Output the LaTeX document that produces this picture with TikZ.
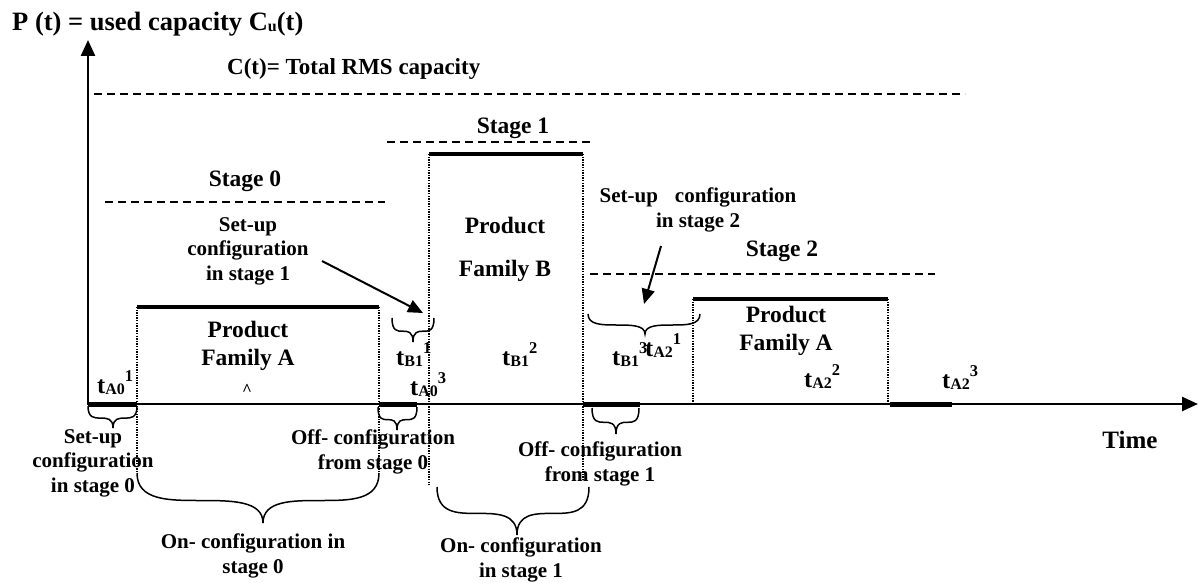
\documentclass[tikz,border=0pt]{standalone}
\usepackage{fontspec}
\setmainfont{Liberation Serif}
\usetikzlibrary{arrows.meta}

% font size helper (size in pt, leading in pt)
\newcommand\fsz[2]{\bfseries\fontsize{#1}{#2}\selectfont}
% time label t with subscript index and superscript phase
\newcommand\tlab[2]{t\raisebox{-1pt}{\fontsize{16}{16}\selectfont #1}\raisebox{12pt}{\fontsize{16.5}{16.5}\selectfont #2}}
% curly brace: left x, tip x, right x, top y, tip y
\newcommand\cbrace[5]{%
  \pgfmathsetmacro\bh{#4+0.55*(#5-#4)}%
  \pgfmathsetmacro\bl{#2-#1}%
  \pgfmathsetmacro\br{#3-#2}%
  \draw[bracepen] (#1,#4) .. controls (#1,\bh) and ({#1+0.25*\bl},\bh) .. ({#1+0.5*\bl},\bh)
    .. controls ({#1+0.75*\bl},\bh) and (#2,\bh) .. (#2,#5)
    .. controls (#2,\bh) and ({#2+0.25*\br},\bh) .. ({#2+0.5*\br},\bh)
    .. controls ({#2+0.75*\br},\bh) and (#3,\bh) .. (#3,#4);
}

\tikzset{
  axis/.style={line width=2.5pt, -{Triangle[length=16pt,width=14pt]}},
  level/.style={line width=1.5pt, dash pattern=on 8pt off 5pt},
  plateau/.style={line width=4pt},
  edge/.style={line width=1.3pt, dash pattern=on 1.3pt off 1.3pt},
  slot/.style={line width=5pt},
  bracepen/.style={line width=1.5pt},
  pointer/.style={line width=2pt, -{Triangle[length=15pt,width=13pt]}},
  lbl/.style={font=\fsz{21}{24.5}, align=center, inner sep=0pt},
  prod/.style={font=\fsz{23.5}{28}, align=center, inner sep=0pt},
  stage/.style={font=\fsz{23.5}{28}, inner sep=0pt},
  tl/.style={font=\fsz{24.5}{24.5}, anchor=base west, inner sep=0pt},
}

\begin{document}
\begin{tikzpicture}[x=1pt,y=-1pt]
\useasboundingbox (0,0) rectangle (1199,583);

% capacity levels
\draw[level] (94,94) -- (965,94);
\draw[level] (105,202) -- (385,202);
\draw[level] (387,142) -- (590,142);
\draw[level] (590,274) -- (935,274);

% production blocks: solid top, dotted sides
\draw[plateau] (137,307) -- (379,307);
\draw[edge] (137,307) -- (137,473);
\draw[edge] (379,307) -- (379,473);
\draw[plateau] (429,154) -- (583,154);
\draw[edge] (429,154) -- (429,485);
\draw[edge] (583,154) -- (583,480);
\draw[plateau] (693,299) -- (888,299);
\draw[edge] (693,299) -- (693,404);
\draw[edge] (888,299) -- (888,404);

% axes
\draw[axis] (88,405) -- (88,40);
\draw[axis] (87,404) -- (1198,404);

% configuration intervals on the time axis
\draw[slot] (88,404) -- (137,404);
\draw[slot] (379,404) -- (417,404);
\draw[slot] (583,404) -- (640,404);
\draw[slot] (890,404) -- (952,404);

% braces
\cbrace{88}{113}{137}{406}{428}
\cbrace{378}{397}{417}{407}{430}
\cbrace{592}{616}{639}{408}{434}
\cbrace{137}{263}{379}{473}{523}
\cbrace{437}{517}{589}{487}{535}
\cbrace{392}{413}{434}{318}{342}
\cbrace{588}{645}{700}{314}{334}

% axis titles
\node[font=\fsz{26.5}{26.5}, anchor=base west, inner sep=0pt] (ylab) at (12,31)
  {P (t) = used capacity C\raisebox{-1pt}{\fontsize{16}{16}\selectfont u}(t)};
\node[font=\fsz{23}{23}, anchor=base west, inner sep=0pt] (cap) at (227,75) {C(t)= Total RMS capacity};
\node[font=\fsz{25}{25}, inner sep=0pt] (time) at (1130,440) {Time};

% stages
\node[stage] (s0) at (245,181) {Stage 0};
\node[stage] (s1) at (513,128) {Stage 1};
\node[stage] (s2) at (782,251) {Stage 2};

% products
\node[prod] (pa0) at (248,346) {Product\\Family A};
\node[font=\fsz{17}{17}, inner sep=0pt] (caret) at (247,390) {\textasciicircum};
\node[prod] (pb) at (505,249) {Product\\[15pt]Family B};
\node[prod] (pa2) at (786,331) {Product\\Family A};

% time labels
\node[tl] (ta01) at (97,393) {\tlab{A0}{1}};
\node[tl] (ta03) at (410,395) {\tlab{A0}{3}};
\node[tl] (tb11) at (396,365) {\tlab{B1}{1}};
\node[tl] (tb12) at (502,365) {\tlab{B1}{2}};
\node[tl] (tb13) at (612,365) {\tlab{B1}{3}};
\node[tl] (ta21) at (645,356) {\tlab{A2}{1}};
\node[tl] (ta22) at (804,387) {\tlab{A2}{2}};
\node[tl] (ta23) at (942,388) {\tlab{A2}{3}};

% configuration notes
\node[lbl] (su1) at (248,251) {Set-up\\configuration\\in stage 1};
\node[lbl] (su2) at (698,210) {Set-up\hspace{17pt}configuration\\in stage 2};
\node[lbl] (su0) at (93,463) {Set-up\\configuration\\in stage 0};
\node[lbl] (off0) at (373,452) {Off- configuration\\from stage 0};
\node[lbl] (off1) at (600,464) {Off- configuration\\from stage 1};
\node[lbl] (on0) at (253,556) {On- configuration in\\stage 0};
\node[lbl] (on1) at (521,560) {On- configuration\\in stage 1};

% pointers
\coordinate (p1s) at (322,261);
\coordinate (p1e) at (423,313);
\coordinate (p2s) at (661,246);
\coordinate (p2e) at (644,304);
\draw[pointer] (p1s) -- (p1e);
\draw[pointer] (p2s) -- (p2e);
\end{tikzpicture}
\end{document}
